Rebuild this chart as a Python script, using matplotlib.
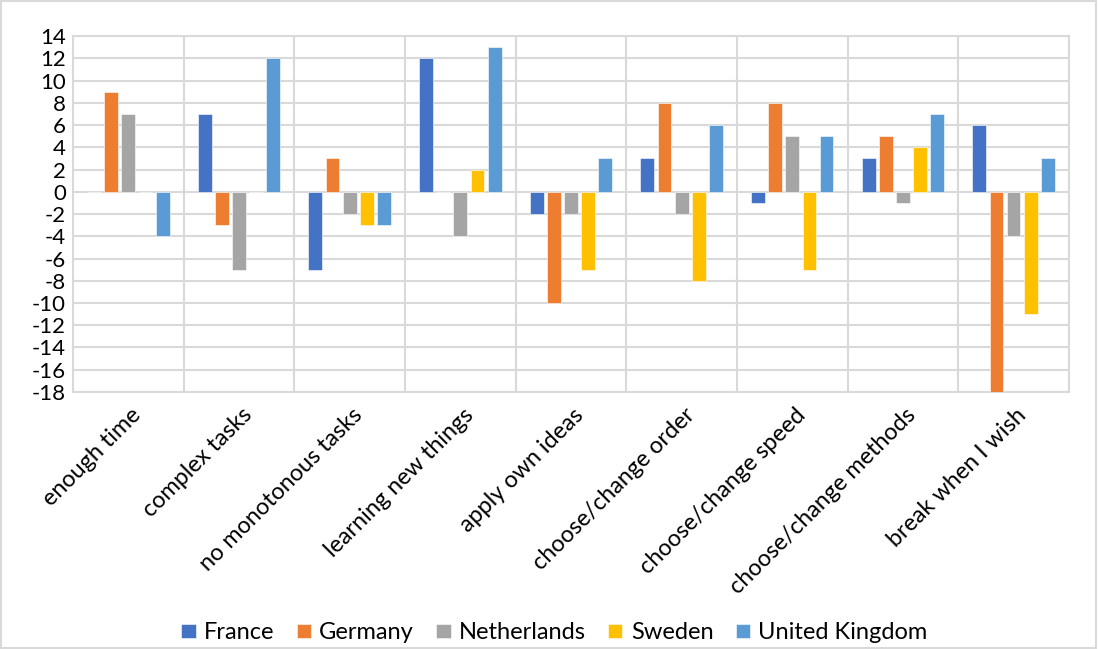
import matplotlib

matplotlib.use("Agg")
import matplotlib.pyplot as plt
import numpy as np
from matplotlib.patches import Rectangle

plt.rcParams["font.family"] = ["Lato", "DejaVu Sans"]
plt.rcParams["axes.unicode_minus"] = False

categories = [
    "enough time",
    "complex tasks",
    "no monotonous tasks",
    "learning new things",
    "apply own ideas",
    "choose/change order",
    "choose/change speed",
    "choose/change methods",
    "break when I wish",
]
countries = ["France", "Germany", "Netherlands", "Sweden", "United Kingdom"]

france = [0, 7, -7, 12, -2, 3, -1, 3, 6]
germany = [9, -3, 3, 0, -10, 8, 8, 5, -18]
netherlands = [7, -7, -2, -4, -2, -2, 5, -1, -4]
sweden = [0, 0, -3, 2, -7, -8, -7, 4, -11]
united_kingdom = [-4, 12, -3, 13, 3, 6, 5, 7, 3]

series = [france, germany, netherlands, sweden, united_kingdom]
colors = ["#4472C4", "#ED7D31", "#A5A5A5", "#FFC000", "#5B9BD5"]

fig = plt.figure(figsize=(10.98, 6.49), dpi=100)
ax = fig.add_axes([0.0665, 0.396, 0.907, 0.5485])

x = np.arange(len(categories))
step = 0.155
width = 0.125
for i, (vals, name, c) in enumerate(zip(series, countries, colors)):
    ax.bar(x + (i - 2) * step, vals, width, color=c, label=name,
           edgecolor="white", linewidth=0.4, zorder=3)

ax.set_xlim(-0.5, len(categories) - 0.5)
ax.set_ylim(-18, 14)
ax.set_yticks(np.arange(-18, 15, 2))
ax.tick_params(axis="y", length=0, labelsize=16, pad=5)

# category boundaries drawn as vertical grid lines
ax.set_xticks(x + 0.5, minor=True)
ax.set_xticks(x)
ax.set_xticklabels([])
ax.tick_params(axis="x", which="both", length=0)
ax.grid(axis="y", color="#D9D9D9", linewidth=1.5, zorder=0)
ax.grid(axis="x", which="minor", color="#D9D9D9", linewidth=1.5, zorder=0)
for side in ax.spines.values():
    side.set_color("#D9D9D9")
    side.set_linewidth(1.5)

for xi, lab in zip(x, categories):
    ax.text(xi + 0.02, -19.1, lab, rotation=45, ha="right", va="top",
            rotation_mode="anchor", fontsize=16.8)

leg = fig.legend(loc="lower center", bbox_to_anchor=(0.505, -0.024), ncol=5,
                 frameon=False, fontsize=17, handlelength=0.6, handleheight=0.6,
                 handletextpad=0.35, columnspacing=0.95)

fig.patches.append(Rectangle((0.001, 0.002), 0.997, 0.996, transform=fig.transFigure,
                             fill=False, edgecolor="#D9D9D9", linewidth=1.5))

fig.savefig("out.png", dpi=100)
